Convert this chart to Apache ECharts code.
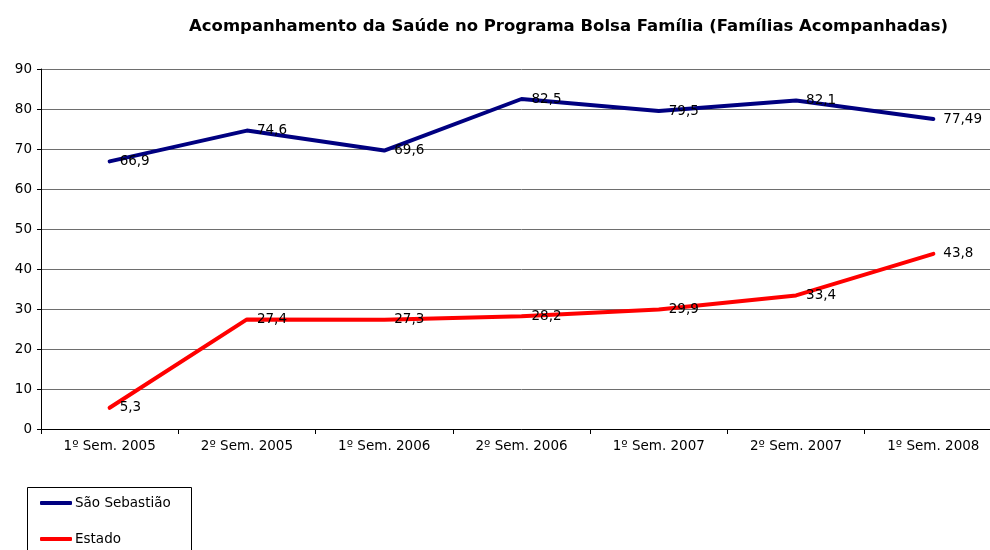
<!DOCTYPE html>
<html><head><meta charset="utf-8">
<script src="https://cdn.jsdelivr.net/npm/echarts@6/dist/echarts.min.js"></script>
<style>html,body{margin:0;padding:0;background:#fff;overflow:hidden;width:990px;height:550px}#c{width:1010px;height:550px}</style>
</head><body><div id="c"></div>
<script>
const categories = ['1º Sem. 2005','2º Sem. 2005','1º Sem. 2006','2º Sem. 2006','1º Sem. 2007','2º Sem. 2007','1º Sem. 2008'];
const saoSebastiao = [66.9, 74.6, 69.6, 82.5, 79.5, 82.1, 77.49];
const estado = [5.3, 27.4, 27.3, 28.2, 29.9, 33.4, 43.8];
const yTicks = [0,10,20,30,40,50,60,70,80,90];

const chart = echarts.init(document.getElementById('c'), null, {renderer:'canvas'});
const font = '"DejaVu Sans", sans-serif';
const fs = 13.5;
const fmt = p => String(p.value).replace('.', ',');
function mkSeries(name, data, color){
  return {
    name, type:'line', data, symbol:'circle', symbolSize:0, showSymbol:true, smooth:false,
    lineStyle:{color, width:4, cap:'round', join:'round'}, itemStyle:{color},
    label:{show:true, position:'right', distance:10, offset:[0,1], color:'#000', fontSize:fs, fontFamily:font, formatter:fmt},
    labelLayout:{hideOverlap:false},
    emphasis:{disabled:true}, animation:false
  };
}
function legendItem(name, top){
  return {orient:'vertical', left:40, top, itemWidth:32, itemHeight:4, itemGap:0, padding:0,
    icon:'roundRect', textStyle:{color:'#000', fontSize:fs, fontFamily:font, padding:[0,0,0,-2]},
    selectedMode:false, data:[name]};
}
chart.setOption({
  animation:false,
  title:{text:'Acompanhamento da Saúde no Programa Bolsa Família (Famílias Acompanhadas)', left:184, top:13,
    textStyle:{fontSize:16.5, fontWeight:'bold', color:'#000', fontFamily:font}},
  grid:{left:41, top:69, width:961, height:360, containLabel:false},
  xAxis:{type:'category', data:categories, boundaryGap:true,
    axisLine:{lineStyle:{color:'#000', width:1}},
    axisTick:{show:true, length:5, lineStyle:{color:'#000'}},
    axisLabel:{color:'#000', fontSize:fs, fontFamily:font, margin:10},
    splitLine:{show:false}},
  yAxis:{type:'value', min:yTicks[0], max:yTicks[yTicks.length-1], interval:10,
    axisLine:{show:true, lineStyle:{color:'#000', width:1}},
    axisTick:{show:true, length:4, lineStyle:{color:'#000'}},
    axisLabel:{color:'#000', fontSize:fs, fontFamily:font, margin:9},
    splitLine:{show:true, lineStyle:{color:'#6e6e6e', width:1}}},
  legend:[legendItem('São Sebastião', 496), legendItem('Estado', 532)],
  graphic:[{type:'rect', shape:{x:27.5, y:487.5, width:164, height:80}, style:{fill:'none', stroke:'#000', lineWidth:1}}],
  series:[mkSeries('São Sebastião', saoSebastiao, '#000080'), mkSeries('Estado', estado, '#ff0000')]
});
</script></body></html>
